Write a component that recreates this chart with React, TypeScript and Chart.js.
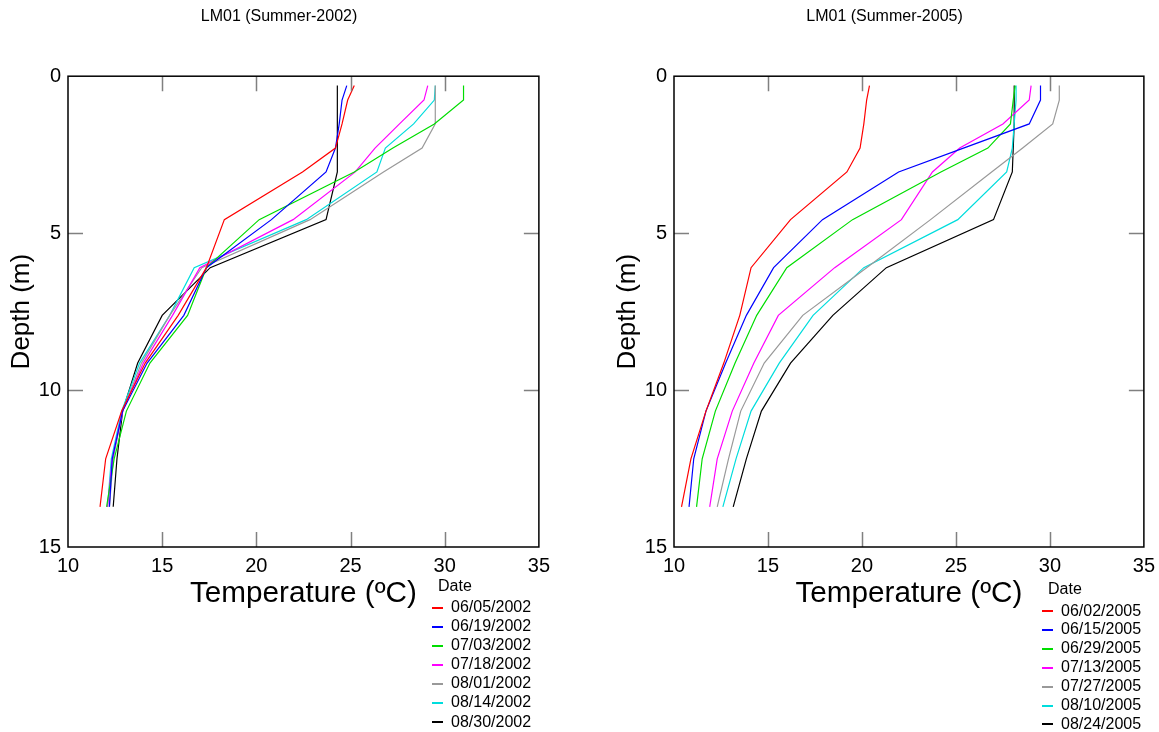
import { useEffect, useRef } from "react";
import { Chart, registerables } from "chart.js";

Chart.register(...registerables);

const FONT = "'Liberation Sans', Arial, Helvetica, sans-serif";

// Depth levels (m)
const depths = [0.3, 0.76, 1.52, 2.29, 3.05, 4.57, 6.1, 7.62, 9.14, 10.67, 12.19, 13.72];

const xTickValues = [10, 15, 20, 25, 30, 35];
const yTickValues = [0, 5, 10, 15];

const seriesColors = ["#ff0000", "#0000ff", "#00dd00", "#ff00ff", "#999999", "#00dddd", "#000000"];

// Summer 2002
const dates2002 = ["06/05/2002", "06/19/2002", "07/03/2002", "07/18/2002", "08/01/2002", "08/14/2002", "08/30/2002"];
const t2002_0605 = [25.2, 24.85, 24.55, 24.2, 22.45, 18.3, 17.35, 15.85, 14.1, 12.85, 12.0, 11.7];
const t2002_0619 = [24.8, 24.55, 24.4, 24.2, 23.7, 20.8, 17.35, 16.15, 14.2, 12.9, 12.35, 12.2];
const t2002_0703 = [31.0, 31.0, 29.45, 27.25, 25.2, 20.15, 17.35, 16.35, 14.35, 13.1, 12.45, 12.05];
const t2002_0718 = [29.1, 28.9, 27.6, 26.3, 25.25, 21.95, 17.0, 15.55, 14.0, 12.9, 12.35, 12.1];
const t2002_0801 = [29.5, 29.5, 29.5, 28.8, 26.75, 22.85, 17.1, 15.4, 13.9, 12.9, 12.4, 12.2];
const t2002_0814 = [29.5, 29.45, 28.35, 26.85, 26.4, 22.65, 16.7, 15.4, 13.8, 12.85, 12.3, 12.1];
const t2002_0830 = [24.3, 24.3, 24.3, 24.3, 24.3, 23.7, 17.55, 15.0, 13.7, 12.9, 12.6, 12.4];

// Summer 2005
const dates2005 = ["06/02/2005", "06/15/2005", "06/29/2005", "07/13/2005", "07/27/2005", "08/10/2005", "08/24/2005"];
const t2005_0602 = [20.4, 20.25, 20.1, 19.9, 19.2, 16.2, 14.1, 13.5, 12.65, 11.7, 10.9, 10.4];
const t2005_0615 = [29.5, 29.5, 28.9, 25.4, 21.95, 17.9, 15.3, 13.85, 12.75, 11.7, 11.05, 10.8];
const t2005_0629 = [28.15, 28.05, 27.9, 26.7, 24.2, 19.5, 16.0, 14.4, 13.25, 12.2, 11.5, 11.2];
const t2005_0713 = [29.0, 28.9, 27.5, 25.2, 23.75, 22.1, 18.55, 15.55, 14.25, 13.1, 12.3, 11.9];
const t2005_0727 = [30.5, 30.5, 30.15, 28.55, 26.9, 23.65, 20.25, 16.85, 14.8, 13.55, 12.9, 12.3];
const t2005_0810 = [28.2, 28.2, 28.1, 28.0, 27.7, 25.1, 20.1, 17.4, 15.6, 14.1, 13.3, 12.6];
const t2005_0824 = [28.1, 28.1, 28.1, 28.05, 28.0, 27.0, 21.3, 18.45, 16.2, 14.65, 13.85, 13.15];

const series2002 = [t2002_0605, t2002_0619, t2002_0703, t2002_0718, t2002_0801, t2002_0814, t2002_0830];
const series2005 = [t2005_0602, t2005_0615, t2005_0629, t2005_0713, t2005_0727, t2005_0810, t2005_0824];

const framePlugin = {
  id: "frameTicks",
  afterDatasetsDraw(chart: any) {
    const { ctx, chartArea: a, scales } = chart;
    const len = 15;
    ctx.save();
    ctx.strokeStyle = "#808080";
    ctx.lineWidth = 1.5;
    ctx.beginPath();
    for (const v of xTickValues.slice(1, -1)) {
      const px = Math.round(scales.x.getPixelForValue(v)) + 0.5;
      ctx.moveTo(px, a.top);
      ctx.lineTo(px, a.top + len);
      ctx.moveTo(px, a.bottom);
      ctx.lineTo(px, a.bottom - len);
    }
    for (const v of yTickValues.slice(1, -1)) {
      const py = Math.round(scales.y.getPixelForValue(v)) + 0.5;
      ctx.moveTo(a.left, py);
      ctx.lineTo(a.left + len, py);
      ctx.moveTo(a.right, py);
      ctx.lineTo(a.right - len, py);
    }
    ctx.stroke();
    ctx.strokeStyle = "#000000";
    ctx.lineWidth = 1.5;
    ctx.strokeRect(a.left, a.top, a.right - a.left, a.bottom - a.top);
    ctx.restore();
  },
};

type ProfileProps = {
  title: string;
  dates: string[];
  series: number[][];
  canvasLeft: number;
  canvasWidth: number;
  padRight: number;
  legendLeft: number;
  legendTitleY: number;
  legendRow0: number;
  legendStep: number;
};

function Profile(p: ProfileProps) {
  const ref = useRef<HTMLCanvasElement | null>(null);

  useEffect(() => {
    if (!ref.current) return;
    const chart = new Chart(ref.current, {
      type: "scatter",
      data: {
        datasets: p.series.map((temps, i) => ({
          label: p.dates[i],
          data: temps.map((t, k) => ({ x: t, y: depths[k] })),
          showLine: true,
          borderColor: seriesColors[i],
          backgroundColor: seriesColors[i],
          borderWidth: 1.2,
          pointRadius: 0,
          tension: 0,
        })),
      },
      plugins: [framePlugin],
      options: {
        responsive: false,
        animation: false,
        devicePixelRatio: 1,
        layout: { padding: { left: 15, right: p.padRight, top: 0, bottom: 120 } },
        plugins: {
          legend: { display: false },
          tooltip: { enabled: false },
          title: {
            display: true,
            text: p.title,
            color: "#000",
            font: { family: FONT, size: 16, weight: "normal" },
            padding: { top: 7, bottom: 50 },
          },
        },
        scales: {
          x: {
            type: "linear",
            min: 10,
            max: 35,
            position: "bottom",
            grid: { display: false, drawTicks: false },
            border: { display: false },
            ticks: {
              stepSize: 5,
              color: "#000",
              padding: 7,
              font: { family: FONT, size: 20 },
            },
            title: {
              display: true,
              text: "Temperature (ºC)",
              color: "#000",
              font: { family: FONT, size: 29.7 },
              padding: 0,
            },
            afterFit: (s: any) => {
              s.height = 65;
            },
          },
          y: {
            type: "linear",
            min: 0,
            max: 15,
            reverse: true,
            grid: { display: false, drawTicks: false },
            border: { display: false },
            ticks: {
              stepSize: 5,
              color: "#000",
              padding: 7,
              font: { family: FONT, size: 20 },
            },
            title: {
              display: true,
              text: "Depth (m)",
              color: "#000",
              font: { family: FONT, size: 26 },
              padding: { top: -9, bottom: 0 },
            },
            afterFit: (s: any) => {
              s.width = 53;
            },
          },
        },
      },
    } as any);
    return () => chart.destroy();
  }, []);

  return (
    <>
      <canvas
        ref={ref}
        width={p.canvasWidth}
        height={732}
        style={{ position: "absolute", left: p.canvasLeft, top: 0, width: p.canvasWidth, height: 732 }}
      />
      <div
        style={{
          position: "absolute",
          left: p.legendLeft + 6,
          top: p.legendTitleY - 9.5,
          font: `16px ${FONT}`,
          lineHeight: "19px",
          color: "#000",
          whiteSpace: "nowrap",
        }}
      >
        Date
      </div>
      {p.dates.map((d, i) => {
        const cy = p.legendRow0 + i * p.legendStep;
        return (
          <div key={d}>
            <div
              style={{
                position: "absolute",
                left: p.legendLeft,
                top: Math.round(cy),
                width: 11,
                height: 1.5,
                background: seriesColors[i],
              }}
            />
            <div
              style={{
                position: "absolute",
                left: p.legendLeft + 19,
                top: cy - 9.5,
                font: `16px ${FONT}`,
                lineHeight: "19px",
                color: "#000",
                whiteSpace: "nowrap",
              }}
            >
              {d}
            </div>
          </div>
        );
      })}
    </>
  );
}

export default function App() {
  return (
    <div
      style={{
        position: "absolute",
        left: 0,
        top: 0,
        width: 1159,
        height: 732,
        background: "#ffffff",
        overflow: "hidden",
        fontFamily: FONT,
      }}
    >
      <Profile
        title="LM01 (Summer-2002)"
        dates={dates2002}
        series={series2002}
        canvasLeft={0}
        canvasWidth={557}
        padRight={14}
        legendLeft={432}
        legendTitleY={585}
        legendRow0={606.7}
        legendStep={19.05}
      />
      <Profile
        title="LM01 (Summer-2005)"
        dates={dates2005}
        series={series2005}
        canvasLeft={606}
        canvasWidth={556}
        padRight={14}
        legendLeft={1042}
        legendTitleY={588}
        legendRow0={610}
        legendStep={18.9}
      />
    </div>
  );
}
